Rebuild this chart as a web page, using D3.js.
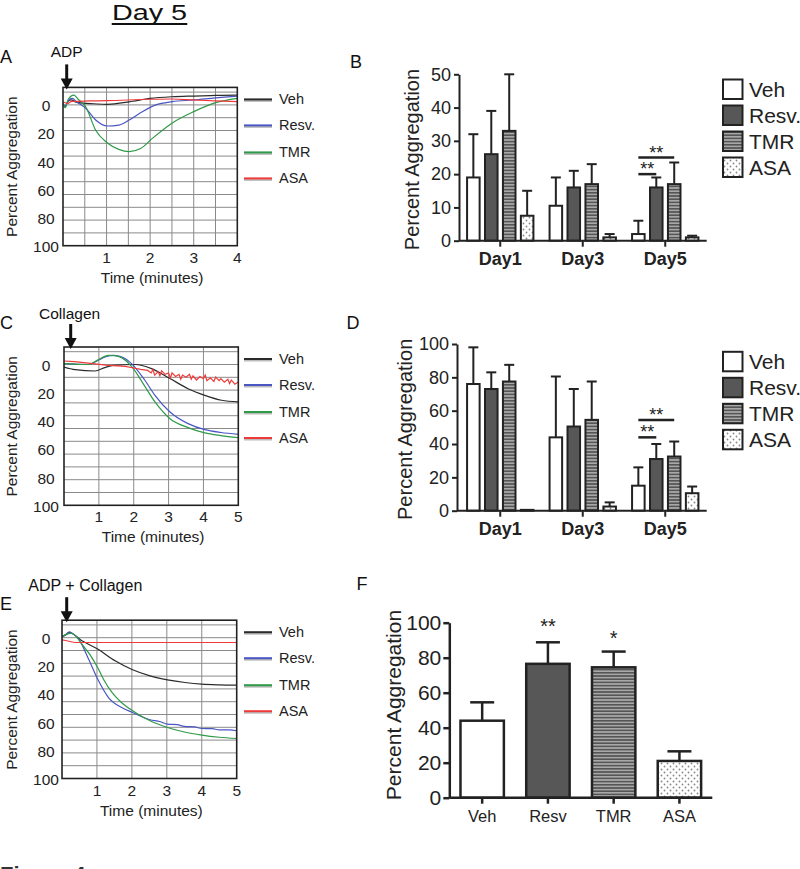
<!DOCTYPE html>
<html><head><meta charset="utf-8">
<script src="https://cdn.jsdelivr.net/npm/d3@7"></script>
<style>body{margin:0;background:#fff}svg{display:block}text{font-family:"Liberation Sans",Arial,Helvetica,sans-serif}</style>
</head><body>
<script>
// ---------- DATA ----------
const traceSeries = ["Veh","Resv.","TMR","ASA"];
const traceTicksY = [0,20,40,60,80,100];
// Panel A: ADP tracings [time (min), % aggregation]
const adpVeh  = [[0,-1],[0.05,1.5],[0.1,-2],[0.18,-3.5],[0.3,-2],[0.45,-1.2],[0.7,-0.8],[1.0,-0.4],[1.3,-1.2],[1.6,-2.6],[2.0,-4.6],[2.5,-5.8],[3.0,-6.3],[3.5,-6.7],[4.0,-7]];
const adpResv = [[0,-1],[0.05,1],[0.12,-3],[0.21,-4.6],[0.32,-2],[0.52,2.4],[0.75,10.7],[1.02,15],[1.28,14.3],[1.52,10.7],[1.82,4.8],[2.13,0],[2.5,-2.3],[3.0,-3.5],[3.5,-5],[4.0,-6.3]];
const adpTmr  = [[0,-1],[0.05,2],[0.12,-4],[0.25,-7],[0.35,-4],[0.52,1.3],[0.75,18],[1.02,27],[1.28,31.6],[1.52,33.2],[1.78,31],[2.05,23.8],[2.5,13],[3.0,4.8],[3.5,-1.6],[4.0,-4.7]];
const adpAsa  = [[0,-2.3],[0.1,-1],[0.2,-2.5],[0.6,-2.8],[1.0,-3],[2.0,-4],[2.5,-4.2],[3.0,-3.5],[3.5,-2.8],[4.0,-2.3]];
// Panel C: Collagen tracings
const colVeh  = [[0,1.8],[0.32,3.6],[0.89,4.6],[1.17,2.2],[1.41,0.6],[2.03,0],[2.51,2.9],[3.04,10],[3.56,17.2],[4.04,21.9],[4.52,25.4],[5,26.6]];
const colResv = [[0,-0.6],[0.7,0],[0.98,-3],[1.2,-5.5],[1.41,-6.5],[1.6,-5.8],[1.75,-4.2],[2.03,1.8],[2.32,11.2],[2.61,21.9],[3.04,33.7],[3.56,42],[4.04,46.3],[4.5,48.3],[5,49.6]];
const colTmr  = [[0,-0.6],[0.7,0],[0.98,-3.3],[1.27,-6.5],[1.45,-6.3],[1.65,-4.9],[1.99,2.9],[2.27,13.6],[2.61,26.6],[3.04,38.5],[3.56,44.8],[4.04,48.6],[4.5,50.5],[5,52]];
const colAsa  = [[0,-2.5],[0.3,-2],[0.7,-1],[1.2,0.5],[1.75,1.3],[2.0,2.5],[2.2,3.5],[2.4,4.2],[2.5,6],[2.55,3.5],[2.6,7.5],[2.7,5],[2.75,8],[2.8,4.5],[2.9,7],[3.0,6],[3.05,9.5],[3.1,6],[3.2,8.5],[3.3,7],[3.35,10.5],[3.4,7.5],[3.5,9],[3.6,7],[3.65,10.5],[3.7,8],[3.8,11],[3.9,8.5],[4.0,10],[4.05,7.5],[4.1,11.5],[4.2,9.5],[4.3,12],[4.35,9],[4.45,11.5],[4.5,10],[4.6,12.5],[4.7,10.5],[4.75,13.5],[4.8,11],[4.9,14],[5.0,12.5]];
// Panel E: ADP + Collagen tracings
const acVeh  = [[0,-0.9],[0.1,-2],[0.21,-3.7],[0.57,2.2],[1.02,8.1],[1.52,16.4],[2.02,22.8],[2.52,27.1],[3.02,29.9],[3.52,31.8],[4.0,33],[4.5,33.5],[5,33.7]];
const acResv = [[0,-0.5],[0.1,-2],[0.21,-4.2],[0.3,-3],[0.48,1],[0.76,15.2],[1.02,29.4],[1.33,42.5],[1.71,49.6],[2.02,53.1],[2.52,58.3],[2.8,59.5],[3.02,61.4],[3.3,61.8],[3.5,63],[3.8,63.4],[4.0,64.5],[4.3,64.6],[4.5,65.5],[4.8,65.4],[5,66.1]];
const acTmr  = [[0,-1],[0.15,-2.5],[0.27,-3.2],[0.4,-1],[0.57,4.6],[0.8,12],[1.02,21.2],[1.2,30],[1.43,38.9],[1.7,46],[2.02,51.9],[2.52,59],[3.02,63.8],[3.5,67],[4.0,69.2],[4.5,70.7],[5,71.6]];
const acAsa  = [[0,1.5],[0.2,2.5],[0.38,3.4],[1,3.4],[2,3.4],[3,3.4],[4,3.4],[5,3.4]];

// Bar charts
const days = ["Day1","Day3","Day5"];
const treatments = ["Veh","Resv.","TMR","ASA"];
const adpMeans = [[19,26,33,7.5],[10.5,16,17,1],[2,16,17,1]];
const adpErrs  = [[13,13,17,7.5],[8.5,5,6,1],[4,3,6.5,0.5]];
const colMeans = [[76,73,77.5,0.5],[44,50.5,54.5,2.5],[15,31,32.5,10.5]];
const colErrs  = [[22,10,10,0],[36.5,22.5,23,2.5],[11,9,9,4]];
const adpTicks = [0,10,20,30,40,50];
const colTicks = [0,20,40,60,80,100];
const fCats  = ["Veh","Resv","TMR","ASA"];
const fMeans = [44,76.5,74.5,21];
const fErrs  = [10.5,12.3,9,5.5];
const fSig   = ["","**","*",""];

// ---------- DRAW ----------
const svg = d3.select("body").append("svg").attr("width",800).attr("height",869);
svg.append("rect").attr("width",800).attr("height",869).attr("fill","#fff");
const defs = svg.append("defs");
const st = defs.append("pattern").attr("id","stripes").attr("patternUnits","userSpaceOnUse").attr("width",6).attr("height",3.2);
st.append("rect").attr("width",6).attr("height",3.2).attr("fill","#a8a8a8");
st.append("rect").attr("width",6).attr("height",1.6).attr("fill","#555");
const dt = defs.append("pattern").attr("id","dots").attr("patternUnits","userSpaceOnUse").attr("width",6).attr("height",6);
dt.append("rect").attr("width",6).attr("height",6).attr("fill","#fff");
dt.append("circle").attr("cx",1.5).attr("cy",1.5).attr("r",0.9).attr("fill","#888");
dt.append("circle").attr("cx",4.5).attr("cy",4.5).attr("r",0.9).attr("fill","#888");

const fillOf = {"Veh":"#ffffff","Resv.":"#575757","Resv":"#575757","TMR":"url(#stripes)","ASA":"url(#dots)"};
const traceColor = {"Veh":"#2b2b2b","Resv.":"#4a56c4","TMR":"#2f9a47","ASA":"#f03a3a"};
const INK = "#222";

// Title (slightly wide lettering as in the reference)
svg.append("text").attr("transform","translate(149.5,19.5) scale(1.28,1)").attr("text-anchor","middle")
  .attr("font-size",22.5).attr("fill","#111").text("Day 5");
svg.append("line").attr("x1",111.7).attr("x2",187.3).attr("y1",24).attr("y2",24).attr("stroke","#111").attr("stroke-width",1.8);

function letter(t,x,y){ svg.append("text").attr("x",x).attr("y",y).attr("font-size",18).attr("fill","#111").text(t); }

function tracePanel(o){
  const g = svg.append("g");
  const x = d3.scaleLinear().domain([0,o.xMax]).range([o.x0,o.x1]);
  const y = d3.scaleLinear().domain([0,100]).range([o.bottom-140.8,o.bottom]);
  const top = o.bottom-158.3;
  const gstep = 100/11;
  for(let k=-1;k<=10;k++){
    g.append("line").attr("x1",o.x0).attr("x2",o.x1).attr("y1",y(k*gstep)).attr("y2",y(k*gstep))
      .attr("stroke","#8a8a8a").attr("stroke-width",1);
  }
  for(let t=o.xStep;t<o.xMax-1e-6;t+=o.xStep){
    g.append("line").attr("x1",x(t)).attr("x2",x(t)).attr("y1",top).attr("y2",o.bottom)
      .attr("stroke","#8a8a8a").attr("stroke-width",1);
  }
  const clipId = "clip"+o.id;
  defs.append("clipPath").attr("id",clipId).append("rect").attr("x",o.x0).attr("y",top).attr("width",o.x1-o.x0).attr("height",o.bottom-top);
  const line = d3.line().x(d=>x(d[0])).y(d=>y(d[1]));
  o.series.forEach((s,i)=>{
    g.append("path").attr("d",line.curve(s.noisy?d3.curveLinear:d3.curveMonotoneX)(s.data))
      .attr("fill","none").attr("stroke",traceColor[traceSeries[i]]).attr("stroke-width",1.2)
      .attr("clip-path",`url(#${clipId})`);
  });
  g.append("rect").attr("x",o.x0).attr("y",top).attr("width",o.x1-o.x0).attr("height",o.bottom-top)
    .attr("fill","none").attr("stroke",INK).attr("stroke-width",1.6);
  traceTicksY.forEach(v=>{
    g.append("text").attr("x",46).attr("y",y(v)+1).attr("dy","0.35em").attr("text-anchor","middle")
      .attr("font-size",15.5).attr("fill","#222").text(v);
  });
  d3.range(1,o.xMax+1).forEach(t=>{
    g.append("text").attr("x",x(t)).attr("y",o.bottom+17).attr("text-anchor","middle")
      .attr("font-size",15.5).attr("fill","#222").text(t);
  });
  g.append("text").attr("x",(o.x0+o.x1)/2+2).attr("y",o.bottom+37).attr("text-anchor","middle")
    .attr("font-size",15.5).attr("fill","#222").text("Time (minutes)");
  g.append("text").attr("transform",`translate(12,${o.bottom-79}) rotate(-90)`).attr("text-anchor","middle")
    .attr("dy","0.35em").attr("font-size",15.5).attr("fill","#222").text("Percent Aggregation");
  const ly = [12,38,65,91];
  traceSeries.forEach((s,i)=>{
    g.append("line").attr("x1",244).attr("x2",272).attr("y1",top+ly[i]+1.5).attr("y2",top+ly[i]+1.5)
      .attr("stroke","#bbb").attr("stroke-width",2);
    g.append("line").attr("x1",244).attr("x2",272).attr("y1",top+ly[i]).attr("y2",top+ly[i])
      .attr("stroke",traceColor[s]).attr("stroke-width",2);
    g.append("text").attr("x",279).attr("y",top+ly[i]).attr("dy","0.35em").attr("font-size",14.5)
      .attr("fill","#222").text(s);
  });
  const ax = x(0)+o.arrowDx, ay0 = top-23, ay1 = top+2;
  g.append("line").attr("x1",ax).attr("x2",ax).attr("y1",ay0).attr("y2",ay1-9).attr("stroke","#111").attr("stroke-width",3);
  g.append("path").attr("d",`M${ax-6},${ay1-11} L${ax+6},${ay1-11} L${ax},${ay1} Z`).attr("fill","#111");
  g.append("text").attr("x",o.stimX).attr("y",o.stimY).attr("font-size",o.stimSize).attr("fill","#111").text(o.stim);
}

tracePanel({id:"A",x0:63,x1:237.3,xMax:4,xStep:0.5,bottom:245.7,arrowDx:3.7,stim:"ADP",stimX:50.7,stimY:57.3,stimSize:15.5,
  series:[{data:adpVeh},{data:adpResv},{data:adpTmr},{data:adpAsa}]});
tracePanel({id:"C",x0:64,x1:238.3,xMax:5,xStep:1,bottom:505.3,arrowDx:6.7,stim:"Collagen",stimX:39,stimY:319,stimSize:15.5,
  series:[{data:colVeh},{data:colResv},{data:colTmr},{data:colAsa,noisy:true}]});
tracePanel({id:"E",x0:62,x1:236.7,xMax:5,xStep:1,bottom:778.5,arrowDx:4.7,stim:"ADP + Collagen",stimX:28.3,stimY:591,stimSize:16,
  series:[{data:acVeh},{data:acResv},{data:acTmr},{data:acAsa}]});

letter("A",0,63); letter("B",350,67.7); letter("C",0,328.5); letter("D",346.5,329.3); letter("E",0,610); letter("F",356.5,590);

function groupedPanel(o){
  const g = svg.append("g");
  const y = d3.scaleLinear().domain([0,o.yMax]).range([o.y0,o.y1]);
  const gx = d3.scaleBand().domain(days).range([459,706.5]);
  const ix = d3.scaleBand().domain(treatments).range([0,gx.bandwidth()]).paddingInner(0.3).paddingOuter(0.45);
  days.forEach((d,di)=>{
    treatments.forEach((t,ti)=>{
      const m = o.means[di][ti], e = o.errs[di][ti];
      const bx = gx(d)+ix(t), bw = ix.bandwidth(), cx = bx+bw/2;
      if(e>0){
        g.append("line").attr("x1",cx).attr("x2",cx).attr("y1",y(m)).attr("y2",y(m+e)).attr("stroke",INK).attr("stroke-width",2);
        g.append("line").attr("x1",cx-5).attr("x2",cx+5).attr("y1",y(m+e)).attr("y2",y(m+e)).attr("stroke",INK).attr("stroke-width",2);
      }
      g.append("rect").attr("x",bx).attr("y",y(m)).attr("width",bw).attr("height",Math.max(0.5,y(0)-y(m)))
        .attr("fill",fillOf[t]).attr("stroke",INK).attr("stroke-width",2);
    });
  });
  const ya = g.append("g").attr("transform",`translate(${o.axisX},0)`)
    .call(d3.axisLeft(y).tickValues(o.ticks).tickSize(5).tickSizeOuter(0).tickPadding(3));
  ya.select(".domain").attr("stroke",INK).attr("stroke-width",2);
  ya.selectAll(".tick line").attr("stroke",INK).attr("stroke-width",2);
  ya.selectAll(".tick text").attr("font-size",18).attr("fill","#222").attr("font-family","Liberation Sans, Arial, sans-serif");
  g.append("line").attr("x1",o.axisX).attr("x2",706.7).attr("y1",y(0)).attr("y2",y(0)).attr("stroke",INK).attr("stroke-width",2);
  days.forEach(d=>{
    const cx = gx(d)+gx.bandwidth()/2;
    g.append("line").attr("x1",cx).attr("x2",cx).attr("y1",y(0)).attr("y2",y(0)+6).attr("stroke",INK).attr("stroke-width",2);
    g.append("text").attr("x",cx).attr("y",y(0)+24.5).attr("text-anchor","middle").attr("font-size",18)
      .attr("font-weight","bold").attr("fill","#222").text(d);
  });
  g.append("text").attr("transform",`translate(${o.titleX},${(o.y0+o.y1)/2+2}) rotate(-90)`).attr("text-anchor","middle")
    .attr("dy","0.35em").attr("font-size",20).attr("fill","#222").text("Percent Aggregation");
  const d5 = gx("Day5");
  o.sig.forEach(s=>{
    const xa = d5+ix(s.from)+ix.bandwidth()/2, xb = d5+ix(s.to)+ix.bandwidth()/2;
    g.append("line").attr("x1",xa).attr("x2",xb).attr("y1",y(s.v)).attr("y2",y(s.v)).attr("stroke",INK).attr("stroke-width",2.5);
    g.append("text").attr("x",(xa+xb)/2).attr("y",y(s.v)+1).attr("text-anchor","middle").attr("font-size",18).attr("fill","#222").text("**");
  });
  treatments.forEach((t,i)=>{
    const ty = o.legTop + i*26;
    g.append("rect").attr("x",723).attr("y",ty).attr("width",19.5).attr("height",19.5).attr("fill",fillOf[t]).attr("stroke",INK).attr("stroke-width",2);
    g.append("text").attr("x",749).attr("y",ty+10).attr("dy","0.35em").attr("font-size",21).attr("fill","#222").text(t);
  });
}
groupedPanel({yMax:50,y0:240.7,y1:74.3,ticks:adpTicks,means:adpMeans,errs:adpErrs,axisX:459,titleX:411.7,legTop:79.5,
  sig:[{from:"Veh",to:"TMR",v:25},{from:"Veh",to:"Resv.",v:20}]});
groupedPanel({yMax:100,y0:510.7,y1:344,ticks:colTicks,means:colMeans,errs:colErrs,axisX:457,titleX:405,legTop:351.8,
  sig:[{from:"Veh",to:"TMR",v:54.4},{from:"Veh",to:"Resv.",v:44}]});

(function(){
  const g = svg.append("g");
  const y = d3.scaleLinear().domain([0,100]).range([797.7,622.7]);
  const x = d3.scaleBand().domain(fCats).range([449.3,712.3]).paddingInner(0.34).paddingOuter(0.17);
  fCats.forEach((c,i)=>{
    const bx = x(c), bw = x.bandwidth(), cx = bx+bw/2, m = fMeans[i], e = fErrs[i];
    g.append("line").attr("x1",cx).attr("x2",cx).attr("y1",y(m)).attr("y2",y(m+e)).attr("stroke",INK).attr("stroke-width",2.5);
    g.append("line").attr("x1",cx-12).attr("x2",cx+12).attr("y1",y(m+e)).attr("y2",y(m+e)).attr("stroke",INK).attr("stroke-width",2.5);
    g.append("rect").attr("x",bx).attr("y",y(m)).attr("width",bw).attr("height",y(0)-y(m))
      .attr("fill",fillOf[c]).attr("stroke",INK).attr("stroke-width",2.5);
    if(fSig[i]) g.append("text").attr("x",cx).attr("y",y(m+e)-9-(fSig[i]==="*"?-2:0)).attr("text-anchor","middle")
      .attr("font-size",20).attr("fill","#222").text(fSig[i]);
    g.append("line").attr("x1",cx).attr("x2",cx).attr("y1",y(0)).attr("y2",y(0)+6).attr("stroke",INK).attr("stroke-width",2.5);
    g.append("text").attr("x",cx).attr("y",822).attr("text-anchor","middle").attr("font-size",16.5).attr("fill","#222").text(c);
  });
  const ya = g.append("g").attr("transform","translate(449.3,0)")
    .call(d3.axisLeft(y).tickValues(colTicks).tickSize(6).tickSizeOuter(0).tickPadding(2));
  ya.select(".domain").attr("stroke",INK).attr("stroke-width",2.5);
  ya.selectAll(".tick line").attr("stroke",INK).attr("stroke-width",2.5);
  ya.selectAll(".tick text").attr("font-size",21).attr("fill","#222").attr("font-family","Liberation Sans, Arial, sans-serif");
  g.append("line").attr("x1",449.3).attr("x2",712.3).attr("y1",y(0)).attr("y2",y(0)).attr("stroke",INK).attr("stroke-width",2.5);
  g.append("text").attr("transform","translate(393.3,705) rotate(-90)").attr("text-anchor","middle").attr("dy","0.35em")
    .attr("font-size",21).attr("fill","#222").text("Percent Aggregation");
})();

svg.append("text").attr("x",0).attr("y",882).attr("font-size",22).attr("font-weight","bold").attr("fill","#333").text("Figure 4");
</script>
</body></html>
